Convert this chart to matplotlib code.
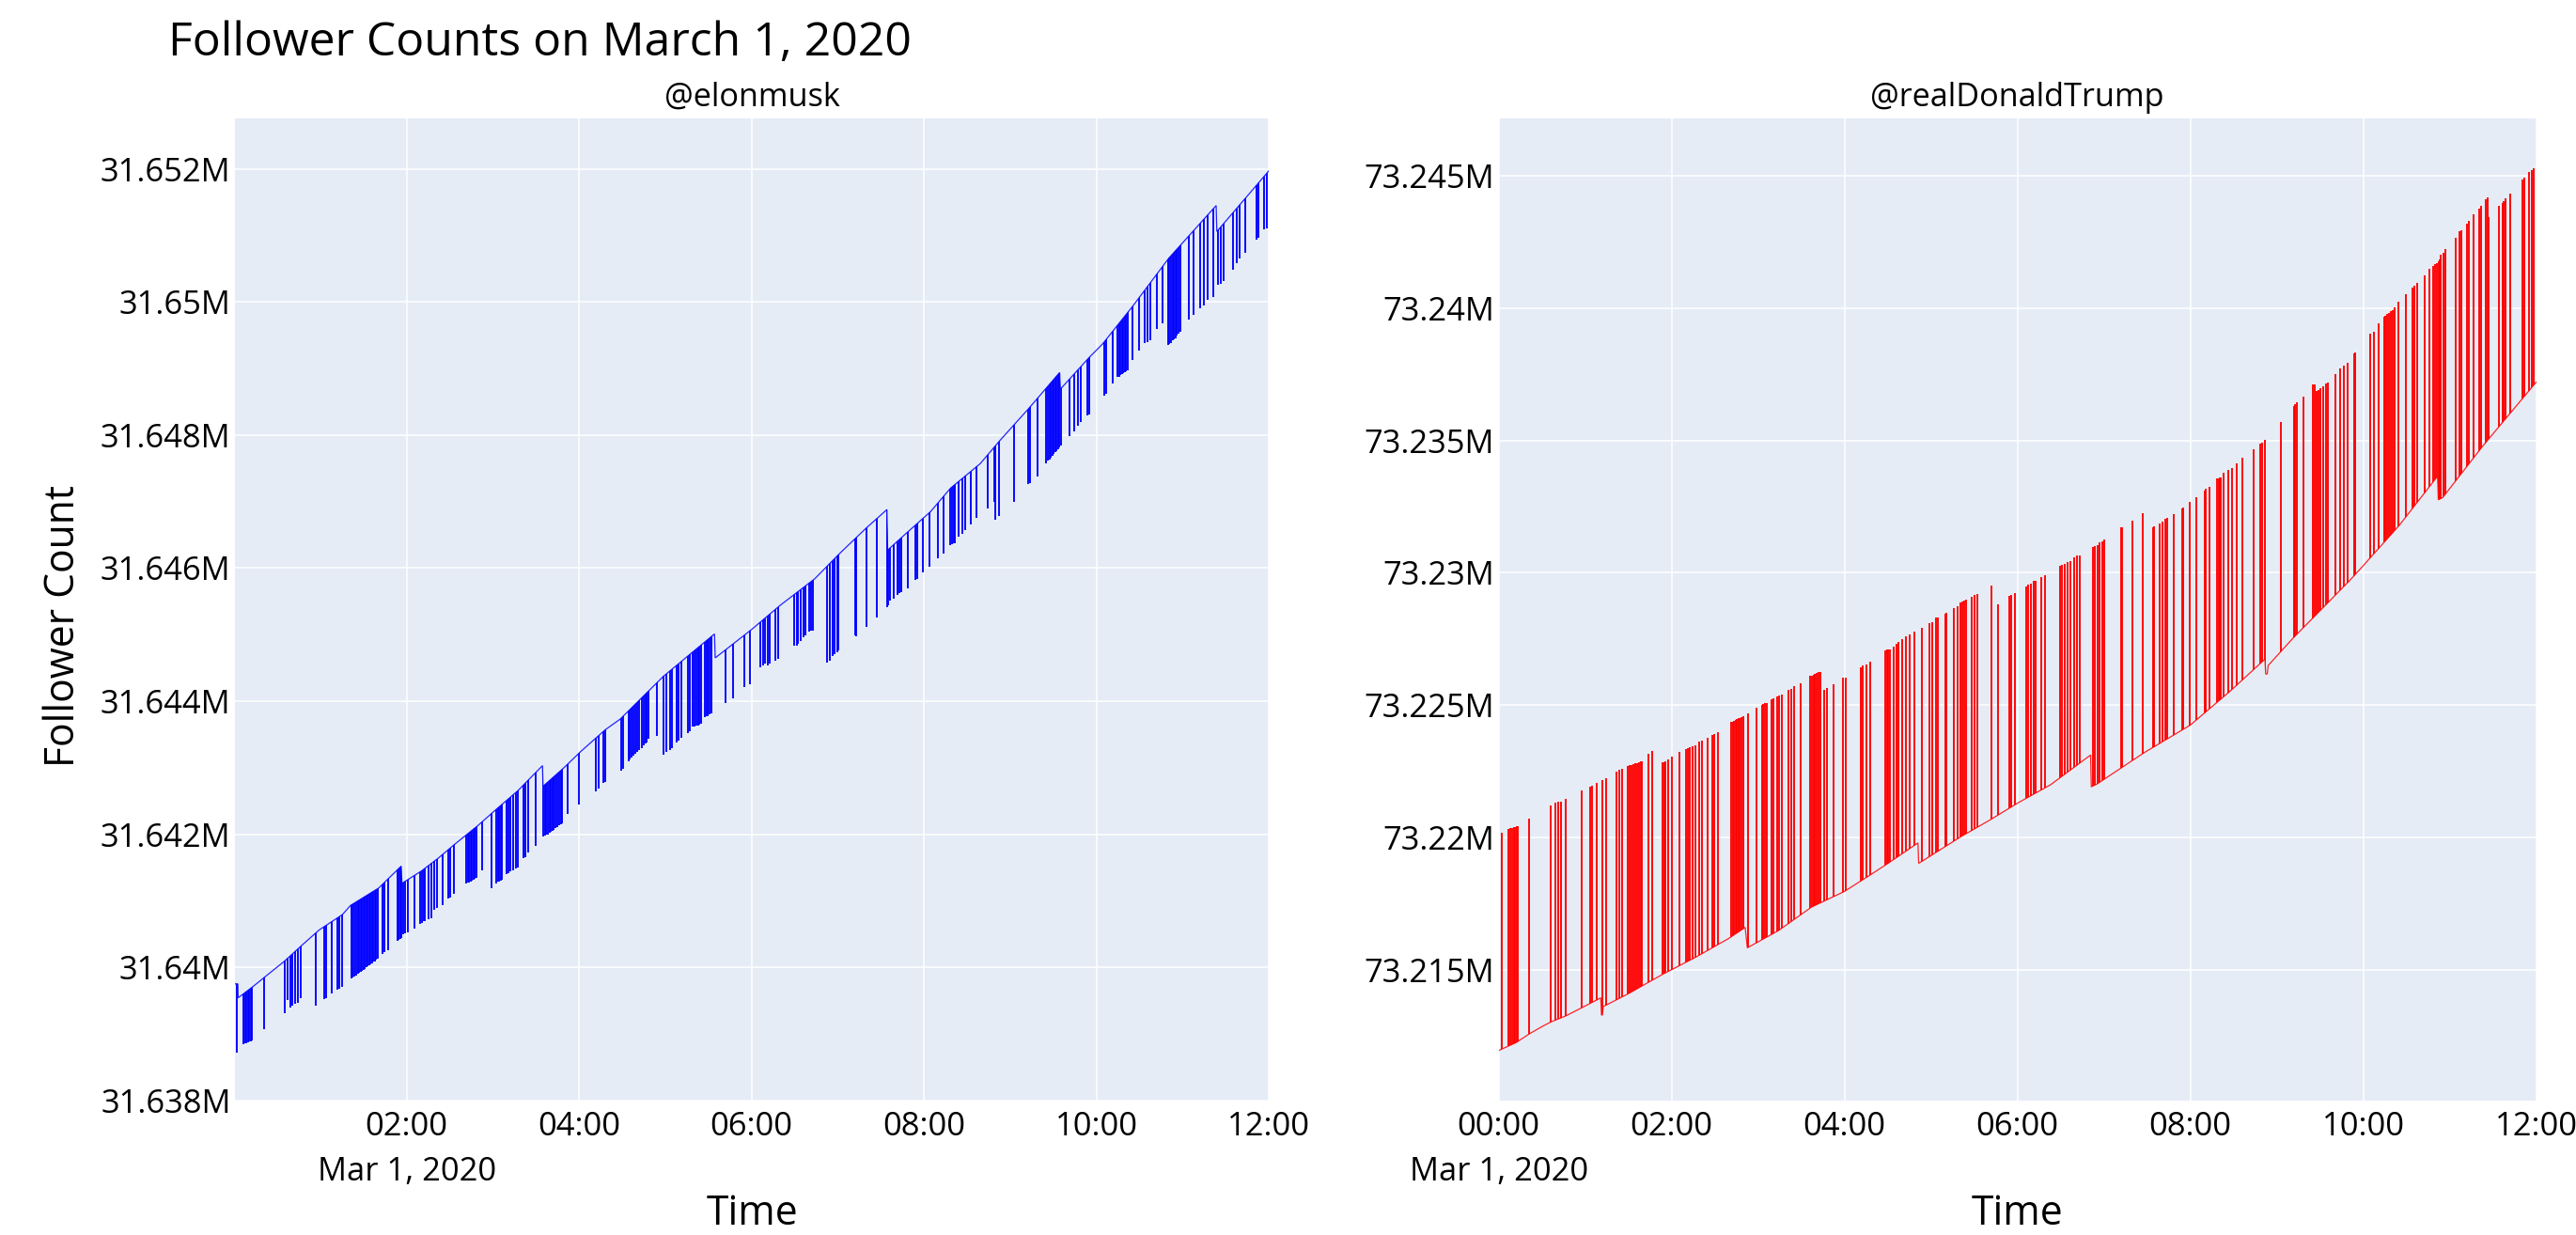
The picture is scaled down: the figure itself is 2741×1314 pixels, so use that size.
import numpy as np
import matplotlib
matplotlib.use("Agg")
import matplotlib.pyplot as plt
from matplotlib.patches import Polygon
from matplotlib.ticker import FuncFormatter, MultipleLocator

# ---------------- data ----------------
# time: minutes after 00:00 on Mar 1, 2020 ; counts: thousands of followers
# main (envelope) line of each series, incl. the small step corrections
elon_line_t = [0.6, 2.6, 2.8, 13.2, 21.2, 35.0, 47.7, 59.2, 75.3, 81.1,
               100.6, 116.3, 116.8, 130.6, 142.1, 153.6, 169.7, 181.2, 197.3, 214.6,
               215.0, 229.6, 241.1, 258.3, 268.7, 298.6, 334.3, 334.8, 360.3, 380.0,
               404.1, 421.4, 439.8, 454.3, 454.8, 468.6, 484.7, 498.5, 519.2, 533.0,
               552.6, 574.5, 575.0, 595.2, 604.4, 625.1, 650.5, 683.4, 683.9, 720.0]
elon_line_v = [31639.75, 31639.75, 31639.54, 31639.71, 31639.85, 31640.09, 31640.34, 31640.56, 31640.79, 31640.93,
               31641.19, 31641.52, 31641.26, 31641.45, 31641.64, 31641.85, 31642.13, 31642.35, 31642.65, 31643.03,
               31642.72, 31643.00, 31643.24, 31643.57, 31643.73, 31644.37, 31645.01, 31644.65, 31645.08, 31645.44,
               31645.84, 31646.22, 31646.60, 31646.88, 31646.27, 31646.54, 31646.85, 31647.20, 31647.57, 31647.92,
               31648.39, 31648.94, 31648.69, 31649.17, 31649.37, 31649.93, 31650.66, 31651.45, 31651.06, 31651.97]

# (time, value) of the short-lived lower readings (downward spikes)
elon_spikes = [
    (2.1, 31638.72),
    (6.5, 31638.84), (7.5, 31638.85), (8.5, 31638.86), (9.5, 31638.87), (10.5, 31638.88), (11.5, 31638.89), (12.5, 31638.90),
    (21.2, 31639.07), (35.5, 31639.31),
    (37.3, 31639.50), (39.0, 31639.39), (40.8, 31639.42), (42.4, 31639.45), (44.2, 31639.46), (46.5, 31639.53),
    (56.9, 31639.42), (62.7, 31639.52), (63.8, 31639.53), (67.7, 31639.60), (71.9, 31639.66), (73.0, 31639.68), (74.9, 31639.71),
    (81.5, 31639.83), (82.5, 31639.85), (83.5, 31639.86), (85.0, 31639.88), (86.0, 31639.90), (87.0, 31639.91), (88.0, 31639.93),
    (89.0, 31639.95), (90.0, 31639.96), (91.0, 31639.98), (92.0, 31640.00), (93.0, 31640.01), (94.0, 31640.03), (95.0, 31640.04),
    (96.0, 31640.06), (97.0, 31640.08), (98.0, 31640.09), (99.0, 31640.11), (100.3, 31640.13),
    (103.0, 31640.20), (104.8, 31640.23), (107.1, 31640.25),
    (113.5, 31640.40), (114.5, 31640.41), (115.5, 31640.43), (116.2, 31640.44),
    (117.4, 31640.49), (119.1, 31640.51), (120.9, 31640.53), (125.5, 31640.58),
    (129.4, 31640.65), (130.6, 31640.67), (131.8, 31640.69), (132.9, 31640.70), (135.2, 31640.72), (137.0, 31640.74),
    (139.3, 31640.86), (141.0, 31640.89), (145.1, 31640.93), (149.0, 31641.03), (150.6, 31641.05), (153.1, 31641.10),
    (161.6, 31641.26), (162.6, 31641.27), (163.6, 31641.28), (164.6, 31641.29), (165.6, 31641.30), (166.6, 31641.32),
    (167.6, 31641.33), (169.0, 31641.35), (172.5, 31641.45),
    (178.9, 31641.19), (182.4, 31641.26), (183.5, 31641.29), (184.5, 31641.29), (185.5, 31641.30), (186.5, 31641.31),
    (189.3, 31641.40), (191.0, 31641.42), (192.5, 31641.44), (194.0, 31641.46), (196.0, 31641.48), (197.3, 31641.50),
    (201.2, 31641.64), (203.0, 31641.66), (204.9, 31641.73), (210.0, 31641.83),
    (215.4, 31641.97), (216.4, 31641.98), (217.4, 31641.99), (218.4, 31642.00), (219.4, 31642.02), (220.4, 31642.04),
    (221.4, 31642.05), (222.4, 31642.07), (223.5, 31642.09), (224.6, 31642.11), (226.0, 31642.13), (227.3, 31642.15), (228.4, 31642.16),
    (232.3, 31642.30), (239.9, 31642.44),
    (251.9, 31642.65), (253.7, 31642.68), (257.2, 31642.77), (258.3, 31642.78),
    (269.1, 31642.96), (270.5, 31642.98),
    (274.4, 31643.10), (275.5, 31643.12), (276.6, 31643.15), (278.0, 31643.18), (279.5, 31643.21), (280.5, 31643.24),
    (282.0, 31643.27), (283.5, 31643.30), (285.0, 31643.33), (286.2, 31643.36), (287.1, 31643.38), (288.3, 31643.43), (294.0, 31643.48),
    (299.1, 31643.19), (300.9, 31643.24), (303.2, 31643.26), (304.4, 31643.29), (307.8, 31643.38), (309.0, 31643.40),
    (311.3, 31643.45), (315.9, 31643.52), (317.0, 31643.55), (319.3, 31643.62), (320.5, 31643.62), (321.7, 31643.63),
    (322.8, 31643.63), (323.9, 31643.64), (325.1, 31643.66), (327.4, 31643.76), (328.6, 31643.77), (329.8, 31643.78),
    (331.0, 31643.80), (332.0, 31643.81),
    (341.7, 31643.97), (347.0, 31644.04), (355.0, 31644.21), (358.9, 31644.25),
    (366.2, 31644.51), (368.0, 31644.53), (369.6, 31644.56), (371.4, 31644.53), (372.4, 31644.56), (376.5, 31644.61), (378.8, 31644.63),
    (389.9, 31644.83), (391.5, 31644.83), (392.6, 31644.86), (394.5, 31644.91), (396.5, 31644.96), (397.7, 31644.99),
    (400.0, 31645.04), (401.4, 31645.06), (403.0, 31645.06),
    (412.9, 31644.58), (414.5, 31644.61), (416.8, 31644.68), (418.0, 31644.71), (419.8, 31644.73), (420.7, 31644.76),
    (432.2, 31644.99), (433.1, 31644.98), (439.8, 31645.11), (447.4, 31645.26),
    (454.3, 31645.41), (455.2, 31645.44), (456.6, 31645.51), (458.9, 31645.54), (461.7, 31645.59), (462.8, 31645.62),
    (464.0, 31645.64), (468.6, 31645.69),
    (474.4, 31645.82), (475.5, 31645.84), (479.6, 31645.94), (484.0, 31646.02),
    (490.0, 31646.15), (493.5, 31646.22), (498.5, 31646.35), (499.6, 31646.36), (500.6, 31646.37), (501.3, 31646.37),
    (504.3, 31646.47), (506.6, 31646.52), (508.9, 31646.57), (513.0, 31646.65), (516.5, 31646.75),
    (524.5, 31646.90), (529.1, 31647.00), (530.0, 31646.73), (532.4, 31646.78), (543.0, 31647.00),
    (552.6, 31647.26), (553.8, 31647.28), (558.8, 31647.38),
    (565.3, 31647.58), (566.3, 31647.61), (567.3, 31647.63), (568.3, 31647.66), (569.3, 31647.69), (570.3, 31647.71),
    (571.3, 31647.74), (572.3, 31647.76), (573.3, 31647.79), (574.3, 31647.82),
    (575.6, 31647.84), (581.4, 31647.99), (584.4, 31648.06), (587.1, 31648.14), (589.0, 31648.19), (594.0, 31648.29), (595.2, 31648.31),
    (605.6, 31648.59), (606.7, 31648.62), (611.3, 31648.77), (614.8, 31648.87), (615.8, 31648.88), (616.8, 31648.90),
    (617.8, 31648.91), (618.8, 31648.93), (619.8, 31648.94), (620.8, 31648.96), (621.7, 31648.97),
    (625.1, 31649.13), (629.7, 31649.27), (633.9, 31649.38), (635.5, 31649.40), (637.8, 31649.42), (642.4, 31649.60), (646.3, 31649.68),
    (650.0, 31649.35), (651.0, 31649.37), (652.0, 31649.39), (653.0, 31649.42), (654.0, 31649.44), (655.0, 31649.46),
    (656.0, 31649.49), (657.2, 31649.52), (658.5, 31649.55),
    (664.3, 31649.73), (667.7, 31649.80), (672.3, 31649.90), (674.6, 31649.95), (677.6, 31650.03), (681.5, 31650.08),
    (685.0, 31650.26), (686.8, 31650.28), (688.4, 31650.31), (695.3, 31650.48), (697.6, 31650.58), (699.9, 31650.66),
    (703.4, 31650.74), (711.4, 31650.94), (712.6, 31650.96), (716.7, 31651.09), (718.4, 31651.11),
]

trump_line = [
    (0.0, 73211.96), (12.1, 73212.26), (21.3, 73212.59), (30.6, 73212.88), (36.3, 73213.04), (46.7, 73213.27),
    (58.2, 73213.59), (70.9, 73213.95), (71.4, 73213.30), (72.0, 73213.30), (72.6, 73213.62), (90.5, 73214.12),
    (113.5, 73214.83), (136.6, 73215.48), (159.6, 73216.19), (171.1, 73216.61), (172.6, 73215.84), (194.2, 73216.49),
    (217.2, 73217.38), (240.0, 73217.97), (258.7, 73218.62), (270.2, 73219.03), (291.0, 73219.80), (291.5, 73219.03),
    (293.3, 73219.09), (320.9, 73220.04), (341.7, 73220.69), (360.0, 73221.30), (383.1, 73222.00), (410.8, 73223.12),
    (411.3, 73221.92), (415.4, 73222.03), (447.7, 73223.20), (480.0, 73224.25), (507.6, 73225.53), (531.8, 73226.74),
    (532.3, 73226.18), (533.4, 73226.18), (534.0, 73226.50), (551.4, 73227.54), (567.5, 73228.43), (590.6, 73229.71),
    (600.0, 73230.27), (625.1, 73231.80), (651.6, 73233.65), (652.1, 73232.76), (655.1, 73232.84), (682.7, 73234.77),
    (720.0, 73237.20),
]

# (time, value) of the short-lived higher readings (upward spikes)
trump_spikes = [
    (2.4, 73220.18),
    (7.1, 73220.33), (8.2, 73220.36), (9.3, 73220.38), (10.5, 73220.40), (11.6, 73220.41), (12.6, 73220.43), (13.3, 73220.44),
    (21.3, 73220.72),
    (35.9, 73221.20), (39.3, 73221.32), (41.6, 73221.36), (43.5, 73221.37), (46.7, 73221.48),
    (57.5, 73221.79), (63.3, 73221.93), (64.7, 73221.96), (67.9, 73222.05), (72.0, 73222.17), (74.8, 73222.25),
    (81.7, 73222.49), (84.0, 73222.56), (85.9, 73222.61),
    (89.3, 73222.70), (90.8, 73222.73), (92.0, 73222.75), (93.5, 73222.77), (95.0, 73222.80), (96.3, 73222.82),
    (97.5, 73222.85), (98.6, 73222.87), (99.7, 73222.90),
    (103.8, 73223.17), (106.6, 73223.26),
    (113.5, 73222.85), (114.8, 73222.86), (116.0, 73222.90), (117.8, 73222.95), (120.4, 73223.05), (125.5, 73223.23),
    (130.1, 73223.35), (131.4, 73223.37), (132.8, 73223.40), (134.5, 73223.44), (136.6, 73223.47),
    (139.3, 73223.63), (141.2, 73223.65), (145.1, 73223.77), (148.6, 73223.88), (149.7, 73223.91), (152.2, 73224.00),
    (161.5, 73224.36), (162.5, 73224.39), (163.5, 73224.42), (164.5, 73224.44), (165.5, 73224.47), (166.5, 73224.50),
    (167.5, 73224.53), (168.5, 73224.56), (170.0, 73224.59), (172.8, 73224.69),
    (179.2, 73224.91), (182.7, 73225.01), (183.8, 73225.04), (185.0, 73225.07), (186.1, 73225.10),
    (189.1, 73225.22), (190.7, 73225.25), (193.0, 73225.34), (194.5, 73225.37), (196.5, 73225.42),
    (201.1, 73225.57), (203.0, 73225.63), (205.3, 73225.72), (209.9, 73225.84),
    (216.1, 73226.10), (217.3, 73226.13), (218.5, 73226.16), (219.7, 73226.19), (220.9, 73226.22), (222.0, 73226.24), (223.0, 73226.27),
    (225.8, 73225.57), (227.6, 73225.65), (232.2, 73225.80), (239.1, 73226.05), (240.7, 73226.05),
    (251.1, 73226.43), (252.9, 73226.49), (255.3, 73226.55), (257.6, 73226.64),
    (268.6, 73227.08), (269.6, 73227.09), (270.5, 73227.10), (271.4, 73227.11),
    (274.2, 73227.23), (276.0, 73227.31), (277.6, 73227.40), (279.9, 73227.49), (282.9, 73227.59), (285.2, 73227.67), (288.7, 73227.79),
    (294.0, 73227.91), (299.1, 73228.11), (300.7, 73228.14), (303.7, 73228.30), (304.8, 73228.32), (309.9, 73228.46), (311.0, 73228.50),
    (315.9, 73228.67), (318.6, 73228.73), (320.5, 73228.89), (322.0, 73228.92), (323.2, 73228.95), (324.4, 73228.97),
    (328.3, 73229.09), (330.2, 73229.15), (332.5, 73229.21), (341.7, 73229.53), (346.8, 73228.82),
    (354.4, 73229.12), (356.0, 73229.17), (358.3, 73229.24),
    (365.9, 73229.47), (367.7, 73229.55), (369.3, 73229.58), (371.2, 73229.68), (372.8, 73229.71), (376.7, 73229.84), (379.0, 73229.90),
    (389.6, 73230.27), (391.2, 73230.31), (392.8, 73230.35), (394.7, 73230.40), (397.0, 73230.43), (399.7, 73230.59),
    (401.6, 73230.64), (403.4, 73230.67),
    (412.2, 73230.98), (413.6, 73231.02), (415.4, 73231.06), (417.3, 73231.14), (418.9, 73231.19), (420.5, 73231.27),
    (432.0, 73231.72), (432.9, 73231.72), (439.6, 73231.96), (447.2, 73232.25),
    (454.1, 73231.72), (455.0, 73231.76), (458.7, 73231.88), (460.8, 73231.93), (462.7, 73232.03), (463.8, 73232.09), (468.4, 73232.20),
    (474.2, 73232.44), (475.3, 73232.47), (479.5, 73232.68), (483.9, 73232.84),
    (489.8, 73233.12), (491.0, 73233.17), (493.3, 73233.25),
    (498.4, 73233.57), (499.5, 73233.58), (500.5, 73233.59), (501.1, 73233.60),
    (503.4, 73233.78), (506.4, 73233.89), (508.7, 73233.97), (512.2, 73234.13), (516.1, 73234.34),
    (523.7, 73234.66), (528.3, 73234.89), (529.9, 73234.93), (531.8, 73235.01), (542.6, 73235.69),
    (551.8, 73236.30), (552.9, 73236.36), (554.1, 73236.43), (558.3, 73236.65),
    (565.2, 73237.10), (566.3, 73237.13), (567.5, 73236.86), (569.0, 73236.91), (570.4, 73236.97), (572.0, 73237.05),
    (574.3, 73237.15), (575.6, 73237.18),
    (580.9, 73237.50), (584.1, 73237.71), (586.6, 73237.83), (588.9, 73237.94), (593.6, 73238.28), (594.7, 73238.31),
    (604.8, 73239.03), (607.2, 73239.11), (610.8, 73239.43),
    (614.3, 73239.67), (615.5, 73239.72), (616.8, 73239.77), (618.0, 73239.82), (619.2, 73239.87), (620.4, 73239.92), (621.7, 73240.03),
    (624.7, 73240.24), (629.3, 73240.51), (633.9, 73240.77), (635.5, 73240.83), (637.3, 73240.96), (642.4, 73241.25), (645.9, 73241.47),
    (648.6, 73241.60), (649.8, 73241.65), (651.0, 73241.70), (652.2, 73241.75), (652.8, 73241.84),
    (653.9, 73242.00), (655.6, 73242.08), (657.3, 73242.24),
    (663.9, 73242.65), (666.6, 73242.89), (667.8, 73242.92), (671.7, 73243.18), (673.5, 73243.30),
    (676.3, 73243.53), (680.4, 73243.77), (682.1, 73243.85),
    (685.1, 73244.09), (686.2, 73244.17), (687.3, 73243.45),
    (694.3, 73243.85), (696.6, 73243.98), (697.7, 73244.04), (698.9, 73244.14), (702.3, 73244.33),
    (710.4, 73244.85), (712.0, 73244.94), (715.0, 73245.14), (716.9, 73245.22), (718.5, 73245.27),
]

left_ticks = [120, 240, 360, 480, 600, 720]
left_ticklabels = ["02:00\nMar 1, 2020", "04:00", "06:00", "08:00", "10:00", "12:00"]
right_ticks = [0, 120, 240, 360, 480, 600, 720]
right_ticklabels = ["00:00\nMar 1, 2020", "02:00", "04:00", "06:00", "08:00", "10:00", "12:00"]

# ---------------- style ----------------
plt.rcParams['font.family'] = ['Open Sans', 'DejaVu Sans']
TEXT = '#000000'
BG = '#E5ECF6'
W, H = 2741, 1314

fig = plt.figure(figsize=(W / 100, H / 100), dpi=100)
fig.patch.set_facecolor('white')


def mfmt(v, _pos):
    s = f"{round(v) / 1000:.3f}".rstrip('0').rstrip('.')
    return s + "M"


def panel(rect, line_t, line_v, spikes, color, down, xlim, ylim, ystep, ticks, labels):
    ax = fig.add_axes(rect)
    ax.set_facecolor(BG)
    for s in ax.spines.values():
        s.set_visible(False)
    ax.set_xlim(*xlim)
    ax.set_ylim(*ylim)
    ax.yaxis.set_major_locator(MultipleLocator(ystep))
    ax.yaxis.set_major_formatter(FuncFormatter(mfmt))
    ax.set_xticks(ticks, labels)
    ax.grid(True, color='white', linewidth=1.1)
    ax.set_axisbelow(True)
    ax.tick_params(axis='both', length=0, labelsize=24.8, colors=TEXT)
    ax.tick_params(axis='y', pad=3.2)
    ax.tick_params(axis='x', pad=8)
    for lab in ax.get_xticklabels():
        lab.set_linespacing(1.55)
        lab.set_multialignment('center')

    st = [p[0] for p in spikes]
    sv = [p[1] for p in spikes]
    y0, y1 = ax.get_ylim()
    if down:
        poly = [(line_t[0], y0)] + list(zip(line_t, line_v)) + [(line_t[-1], y0)]
        lc = ax.vlines(st, sv, max(line_v), colors=color, linewidth=1.35)
    else:
        poly = [(line_t[0], y1)] + list(zip(line_t, line_v)) + [(line_t[-1], y1)]
        lc = ax.vlines(st, min(line_v), sv, colors=color, linewidth=1.35)
    clip = Polygon(poly, closed=True, transform=ax.transData)
    lc.set_clip_path(clip)
    ax.plot(line_t, line_v, color=color, linewidth=0.9, alpha=0.85, solid_joinstyle='miter')
    return ax


ax1 = panel([250 / W, 1 - 1171 / H, 1100 / W, 1045 / H], elon_line_t, elon_line_v, elon_spikes,
            '#0000FF', True, (0.6, 720), (31637.995, 31652.76), 2, left_ticks, left_ticklabels)
trump_t = [p[0] for p in trump_line]
trump_v = [p[1] for p in trump_line]
ax2 = panel([1594.6 / W, 1 - 1171 / H, 1104 / W, 1045 / H], trump_t, trump_v, trump_spikes,
            '#FF0000', False, (0, 720), (73210.07, 73247.16), 5, right_ticks, right_ticklabels)

fig.text(179 / W, 1 - 59 / H, "Follower Counts on March 1, 2020", fontsize=35.9,
         ha='left', va='baseline', color=TEXT)
fig.text(800 / W, 1 - 113 / H, "@elonmusk", fontsize=24.7, ha='center', va='baseline', color=TEXT)
fig.text(2146 / W, 1 - 113 / H, "@realDonaldTrump", fontsize=24.7, ha='center', va='baseline', color=TEXT)
fig.text(800 / W, 1 - 1303 / H, "Time", fontsize=30.7, ha='center', va='baseline', color=TEXT)
fig.text(2146 / W, 1 - 1303 / H, "Time", fontsize=30.7, ha='center', va='baseline', color=TEXT)
fig.text(68 / W, 648.5 / H, "Follower Count", fontsize=30.7, rotation=90, ha='center', va='center', color=TEXT)

fig.savefig("out.png", dpi=100, facecolor='white')
